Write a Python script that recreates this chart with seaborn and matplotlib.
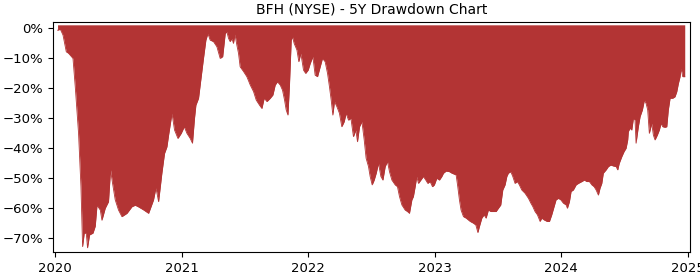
import numpy as np
import pandas as pd
import matplotlib
matplotlib.use("Agg")
import matplotlib.pyplot as plt
import matplotlib.dates as mdates
from matplotlib.ticker import PercentFormatter
import seaborn as sns

title = "BFH (NYSE) - 5Y Drawdown Chart"

# years elapsed since 2020-01-01
t_years = [
    0.018, 0.040, 0.061, 0.087, 0.105, 0.140, 0.158, 0.184, 0.203, 0.216,
    0.229, 0.245, 0.255, 0.271, 0.298, 0.316, 0.330, 0.356, 0.369, 0.395,
    0.421, 0.437, 0.453, 0.474, 0.500, 0.527, 0.567, 0.606, 0.632, 0.656,
    0.696, 0.738, 0.777, 0.796, 0.817, 0.843, 0.864, 0.883, 0.896, 0.923,
    0.943, 0.970, 0.996, 1.020, 1.041, 1.067, 1.085, 1.101, 1.112, 1.133,
    1.154, 1.172, 1.191, 1.207, 1.225, 1.251, 1.278, 1.304, 1.324, 1.344,
    1.357, 1.370, 1.383, 1.397, 1.409, 1.421, 1.436, 1.449, 1.462, 1.489,
    1.515, 1.542, 1.568, 1.589, 1.615, 1.634, 1.652, 1.674, 1.700, 1.721,
    1.739, 1.757, 1.779, 1.797, 1.813, 1.826, 1.840, 1.852, 1.866, 1.876,
    1.889, 1.911, 1.926, 1.942, 1.963, 1.980, 2.000, 2.016, 2.037, 2.055,
    2.074, 2.095, 2.113, 2.134, 2.153, 2.168, 2.182, 2.195, 2.208, 2.227,
    2.247, 2.266, 2.285, 2.300, 2.319, 2.338, 2.358, 2.377, 2.390, 2.406,
    2.425, 2.443, 2.458, 2.477, 2.490, 2.506, 2.522, 2.538, 2.556, 2.575,
    2.591, 2.609, 2.627, 2.643, 2.662, 2.688, 2.706, 2.722, 2.741, 2.767,
    2.785, 2.801, 2.820, 2.832, 2.846, 2.859, 2.872, 2.891, 2.911, 2.930,
    2.946, 2.964, 2.983, 2.998, 3.017, 3.038, 3.057, 3.070, 3.091, 3.117,
    3.136, 3.154, 3.170, 3.183, 3.196, 3.209, 3.228, 3.249, 3.267, 3.281,
    3.307, 3.326, 3.342, 3.354, 3.373, 3.391, 3.407, 3.425, 3.444, 3.465,
    3.486, 3.504, 3.523, 3.539, 3.557, 3.571, 3.583, 3.602, 3.618, 3.636,
    3.654, 3.670, 3.689, 3.715, 3.742, 3.761, 3.776, 3.794, 3.813, 3.834,
    3.847, 3.866, 3.889, 3.908, 3.926, 3.945, 3.960, 3.979, 3.998, 4.018,
    4.040, 4.050, 4.066, 4.079, 4.097, 4.119, 4.137, 4.164, 4.184, 4.203,
    4.224, 4.243, 4.261, 4.277, 4.295, 4.308, 4.322, 4.334, 4.356, 4.374,
    4.393, 4.413, 4.435, 4.448, 4.460, 4.480, 4.498, 4.514, 4.527, 4.532,
    4.545, 4.559, 4.572, 4.585, 4.593, 4.611, 4.625, 4.643, 4.659, 4.672,
    4.685, 4.698, 4.717, 4.730, 4.743, 4.761, 4.777, 4.791, 4.804, 4.822,
    4.836, 4.848, 4.862, 4.883, 4.901, 4.915, 4.928, 4.941, 4.949, 4.962,
    4.978,
]

drawdown_pct = [
    -0.6, -0.3, -2.2, -7.8, -8.3, -10.0, -19.5, -35.0, -52.8, -72.8,
    -68.3, -68.3, -73.2, -68.9, -68.3, -66.0, -59.0, -60.6, -64.0, -60.0,
    -57.8, -47.2, -51.7, -57.2, -60.6, -62.8, -61.7, -59.5, -59.0, -59.5,
    -60.5, -61.7, -57.2, -53.2, -57.8, -48.3, -41.7, -39.5, -35.6, -28.3,
    -33.9, -36.7, -35.0, -32.8, -35.0, -36.7, -38.3, -30.0, -25.6, -23.3,
    -16.1, -10.0, -3.9, -1.7, -3.9, -4.4, -6.1, -10.0, -9.4, -1.7,
    -1.1, -3.3, -4.4, -3.3, -5.0, -1.9, -5.6, -8.3, -12.8, -14.4,
    -16.1, -18.9, -21.1, -23.9, -25.6, -26.7, -23.3, -24.4, -23.3, -22.2,
    -18.9, -17.8, -18.9, -20.6, -23.9, -27.2, -28.9, -19.0, -3.9, -2.8,
    -5.0, -7.2, -11.1, -8.3, -13.9, -15.0, -13.9, -11.7, -9.4, -15.6,
    -16.1, -12.8, -10.0, -11.1, -15.0, -19.4, -23.9, -28.9, -24.4, -26.1,
    -28.3, -32.8, -31.1, -28.3, -30.6, -30.0, -36.1, -33.9, -37.8, -32.8,
    -31.1, -37.2, -43.3, -46.1, -49.4, -52.2, -50.6, -48.3, -45.0, -49.4,
    -50.6, -46.1, -44.4, -47.8, -50.6, -52.2, -52.8, -56.1, -58.9, -60.6,
    -61.1, -61.7, -57.2, -56.1, -52.8, -49.4, -51.7, -50.6, -49.4, -50.6,
    -51.7, -51.1, -52.8, -52.2, -50.0, -50.6, -49.4, -48.3, -47.6, -47.8,
    -48.3, -48.6, -48.9, -52.8, -57.2, -60.6, -62.8, -63.3, -63.9, -64.4,
    -65.0, -65.6, -68.1, -66.1, -63.3, -62.2, -63.3, -60.6, -61.1, -61.1,
    -61.1, -60.0, -58.9, -53.9, -52.2, -49.4, -48.3, -47.8, -49.4, -51.7,
    -51.1, -52.2, -53.9, -55.0, -56.7, -58.3, -59.4, -61.1, -62.2, -64.4,
    -63.3, -63.9, -64.4, -64.4, -62.2, -59.4, -57.2, -56.7, -57.2, -58.3,
    -58.9, -60.0, -57.8, -54.4, -53.9, -52.2, -51.7, -51.1, -50.6, -51.1,
    -51.1, -52.2, -52.8, -53.9, -55.6, -53.3, -51.7, -48.3, -47.2, -46.1,
    -45.6, -45.9, -46.1, -47.2, -45.0, -42.8, -41.1, -40.0, -37.2, -34.4,
    -33.3, -33.9, -30.0, -30.6, -38.3, -32.8, -29.4, -27.2, -23.9, -25.0,
    -27.2, -35.0, -31.7, -35.6, -37.2, -35.6, -33.9, -31.7, -32.8, -33.0,
    -32.8, -27.2, -23.3, -23.3, -22.8, -21.1, -18.3, -16.1, -13.3, -16.1,
    -16.1,
]

start = pd.Timestamp("2020-01-01")
dates = start + pd.to_timedelta(np.array(t_years) * 365.25, unit="D")
df = pd.DataFrame({"date": dates, "dd": drawdown_pct})

color = "#b33434"

fig = plt.figure(figsize=(7, 2.8), dpi=100)
ax = fig.add_axes([0.076, 0.1, 0.910, 0.821])

ax.fill_between(df["date"], df["dd"], 1.2, color=color, linewidth=0)
sns.lineplot(data=df, x="date", y="dd", ax=ax, color=color, linewidth=0.6)

ax.set_xlim(pd.Timestamp("2019-12-26"), pd.Timestamp("2025-01-08"))
ax.set_ylim(-74.6, 2.1)
ax.set_yticks([0, -10, -20, -30, -40, -50, -60, -70])
ax.yaxis.set_major_formatter(PercentFormatter(xmax=100, decimals=0))
ax.xaxis.set_major_locator(mdates.YearLocator())
ax.xaxis.set_major_formatter(mdates.DateFormatter("%Y"))
ax.tick_params(labelsize=9.5)
ax.set_xlabel("")
ax.set_ylabel("")
ax.set_title(title, fontsize=10)

fig.savefig("out.png", dpi=100)
